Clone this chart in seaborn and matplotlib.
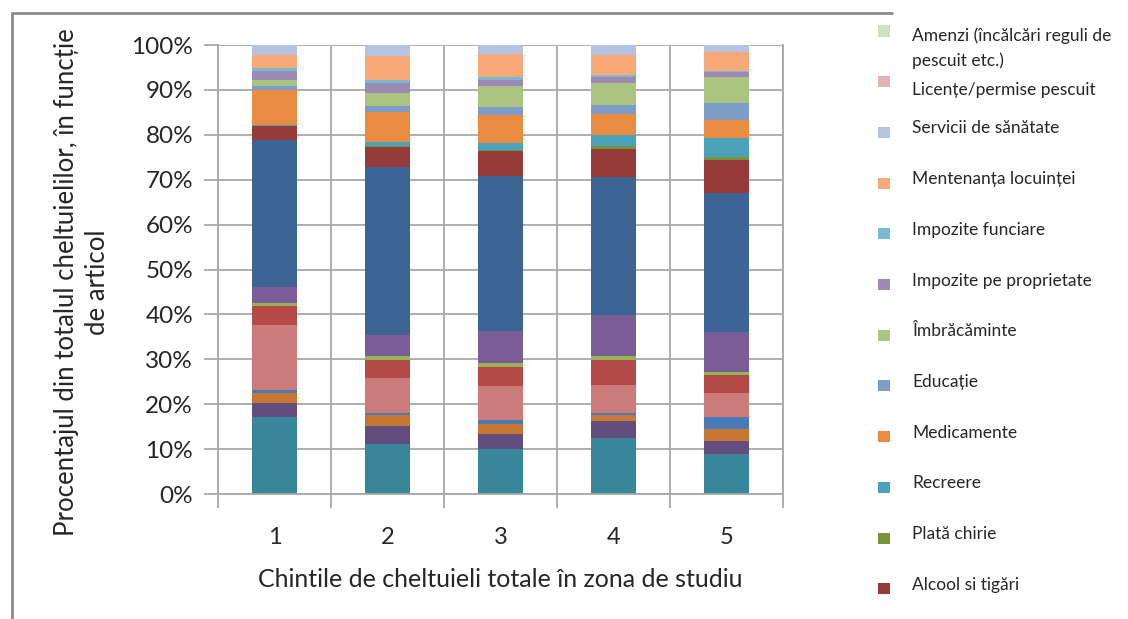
import pandas as pd
import seaborn as sns
import matplotlib.pyplot as plt
from matplotlib.lines import Line2D
from matplotlib.patches import Rectangle
from matplotlib.transforms import Bbox, TransformedBbox

# quintile de cheltuieli (axa x)
quintiles = ['1', '2', '3', '4', '5']

# procente din total, serie cu serie, de jos in sus in stiva
combustibil = [17.2, 11.1, 10.0, 12.4, 8.9]
transport = [3.1, 4.0, 3.3, 3.9, 2.9]
comunicatii = [2.2, 2.4, 2.4, 1.2, 2.7]
unelte = [0.7, 0.5, 0.7, 0.5, 2.7]
ambarcatiune = [14.4, 7.9, 7.6, 6.3, 5.3]
iluminat = [4.3, 3.9, 4.2, 5.6, 4.0]
obiecte_casnice = [0.6, 1.0, 0.9, 0.9, 0.6]
ceremonii = [3.7, 4.6, 7.1, 9.1, 8.9]
alimente = [32.7, 37.5, 34.7, 30.8, 31.0]
alcool = [3.0, 4.3, 5.6, 6.1, 7.3]
chirie = [0.0, 0.4, 0.2, 0.8, 0.7]
recreere = [0.3, 0.8, 1.5, 2.3, 4.3]
medicamente = [7.7, 6.7, 6.2, 4.7, 4.0]
educatie = [0.9, 1.3, 1.8, 2.1, 3.7]
imbracaminte = [1.5, 2.8, 4.6, 4.9, 5.8]
impozite_prop = [1.9, 2.4, 1.3, 1.3, 1.2]
impozite_func = [0.6, 0.6, 0.7, 0.4, 0.3]
mentenanta = [3.0, 5.3, 5.1, 4.5, 4.1]
sanatate = [2.2, 2.5, 2.1, 2.2, 1.6]
licente = [0.0, 0.0, 0.0, 0.0, 0.0]
amenzi = [0.0, 0.0, 0.0, 0.0, 0.0]

series = [
    ('Combustibil', combustibil, '#37869A'),
    ('Transport', transport, '#634D7F'),
    ('Comunicații', comunicatii, '#C57733'),
    ('Unelte de pescuit', unelte, '#4A7AB5'),
    ('Ambarcațiune', ambarcatiune, '#CB7B79'),
    ('Iluminat', iluminat, '#B34A47'),
    ('Obiecte casnice', obiecte_casnice, '#94B455'),
    ('Ceremonii', ceremonii, '#7A5C97'),
    ('Alimente', alimente, '#3C6595'),
    ('Alcool si tigări', alcool, '#953C3A'),
    ('Plată chirie', chirie, '#77933C'),
    ('Recreere', recreere, '#4BA3BB'),
    ('Medicamente', medicamente, '#E88C41'),
    ('Educație', educatie, '#7E9CC8'),
    ('Îmbrăcăminte', imbracaminte, '#ABC482'),
    ('Impozite pe proprietate', impozite_prop, '#9C8AB5'),
    ('Impozite funciare', impozite_func, '#78BCD2'),
    ('Mentenanța locuinței', mentenanta, '#F8A977'),
    ('Servicii de sănătate', sanatate, '#B4C3DF'),
    ('Licențe/permise pescuit', licente, '#E0B5B4'),
    ('Amenzi (încălcări reguli de\npescuit etc.)', amenzi, '#D0DFBD'),
]

df = pd.DataFrame({name: vals for name, vals, _ in series}, index=quintiles)
cum = df.cumsum(axis=1)

sns.set_style('white')
plt.rcParams['font.family'] = ['Lato', 'DejaVu Sans']

fig, ax = plt.subplots(figsize=(11.28, 6.19), dpi=100)
fig.subplots_adjust(left=0.1933, right=0.6941, bottom=0.2019, top=0.9273)

# stacked bars: draw cumulative totals from the top layer down
for name, _, col in reversed(series):
    sns.barplot(x=quintiles, y=cum[name].values, color=col, saturation=1,
                width=0.4, errorbar=None, linewidth=0, ax=ax)

grid_c = '#A8A8A8'
ax.set_xlim(-0.5, 4.5)
ax.set_ylim(0, 100)
ax.set_yticks(range(0, 101, 10))
ax.set_yticklabels([f'{v}%' for v in range(0, 101, 10)])
ax.set_xticks([i - 0.5 for i in range(6)], minor=True)
ax.set_axisbelow(True)
ax.grid(which='major', axis='y', color=grid_c, lw=1.3)
ax.grid(which='minor', axis='x', color=grid_c, lw=1.3)
ax.grid(which='major', axis='x', visible=False)
ax.tick_params(axis='x', which='major', length=0, pad=24, labelsize=17)
ax.tick_params(axis='x', which='minor', length=10, width=1.3, color=grid_c,
               direction='out', bottom=True)
ax.tick_params(axis='y', length=10, width=1.3, color=grid_c, direction='out',
               left=True, pad=8, labelsize=17.5)
for side in ['left', 'bottom', 'right']:
    ax.spines[side].set_color(grid_c)
    ax.spines[side].set_linewidth(1.3)
ax.spines['top'].set_visible(False)

ax.set_xlabel('Chintile de cheltuieli totale în zona de studiu', fontsize=18,
              labelpad=14)
ax.set_ylabel('')
fig.text(0.0725, 0.544, 'Procentajul din totalul cheltuielilor, în funcție\nde articol',
         rotation=90, ha='center', va='center', fontsize=18.5, linespacing=1.28)

# legend (only the top entries fit, as in the original)
W, H = 1128, 619
clip = TransformedBbox(Bbox([[0, 1 - 594 / H], [1, 1]]), fig.transFigure)
text_shift = {0: 6, 1: 10}
legend_items = list(reversed(series))[:12]
for i, (name, _, col) in enumerate(legend_items):
    y = 31 + 50.7 * i
    fig.add_artist(Rectangle((878 / W, 1 - (y + 5.5) / H), 11.5 / W, 11 / H,
                             transform=fig.transFigure, color=col, lw=0))
    ty = y + text_shift.get(i, -2)
    t = fig.text(912 / W, 1 - (ty - 10) / H, name, ha='left', va='top',
                 fontsize=12.5, linespacing=1.62)
    t.set_clip_box(clip)

# outer frame lines
frame_c = '#8C8C8C'
fig.add_artist(Line2D([12 / W, 892 / W], [1 - 13 / H, 1 - 13 / H],
                      transform=fig.transFigure, color=frame_c, lw=2))
fig.add_artist(Line2D([12 / W, 12 / W], [0, 1 - 13 / H],
                      transform=fig.transFigure, color=frame_c, lw=2))

plt.savefig('out.png', dpi=100)
